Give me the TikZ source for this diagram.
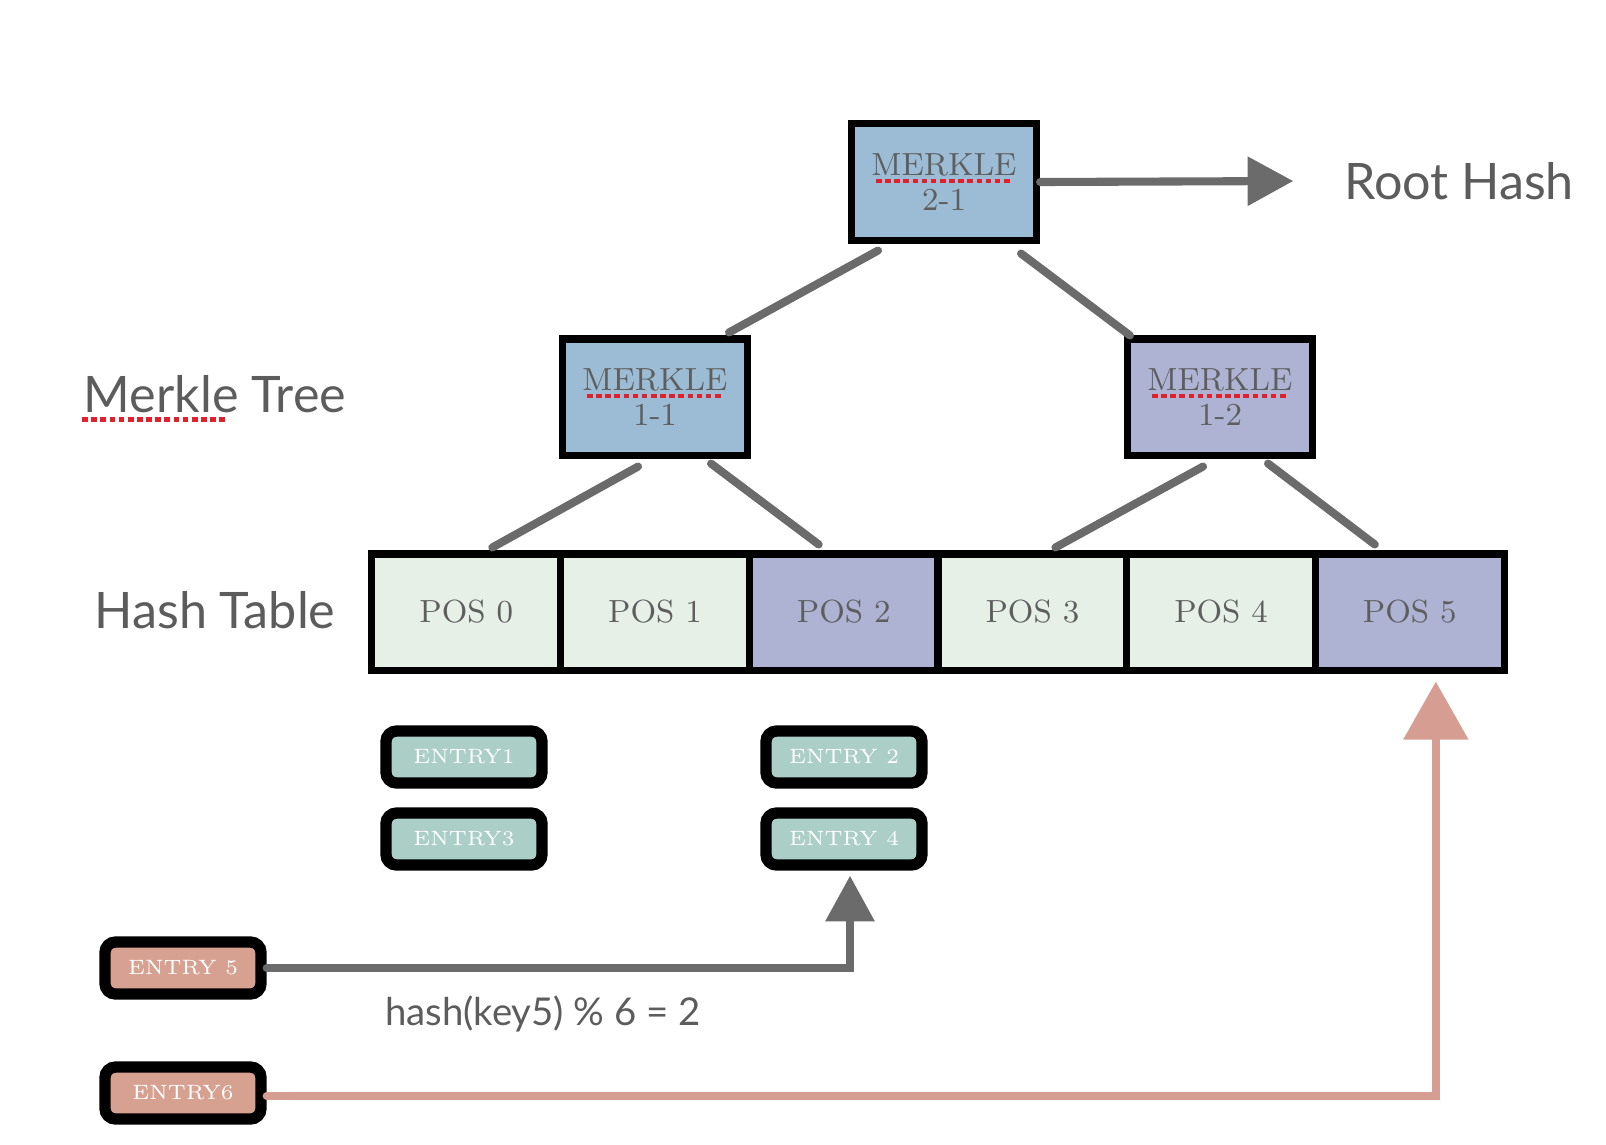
\documentclass[tikz,border=0pt]{standalone}
\usepackage{fontspec}
\usepackage{tikz}
\usepackage{xcolor}
\usetikzlibrary{arrows.meta}
\newfontfamily\labelfont{Lato}
\definecolor{FontColor}{HTML}{5E5E5E}
\definecolor{LabelColor}{HTML}{5C5C5C}
\definecolor{BlueMK}{HTML}{9BBCD4}
\definecolor{PurpleMK}{HTML}{AEB3D4}
\definecolor{GreenPos}{HTML}{E6F0E7}
\definecolor{TealEntry}{HTML}{ABCEC6}
\definecolor{PinkEntry}{HTML}{D7A191}
\definecolor{GreyArrow}{HTML}{6B6B6B}
\definecolor{PinkArrow}{HTML}{D69D93}
\definecolor{SpellRed}{HTML}{E0202A}
\newcommand\noderoot{Root Hash}
\newcommand\nodetree{Merkle Tree}
\newcommand\nodetable{Hash Table}
\newcommand\nodehash{hash(key5) \% 6 = 2}
\tikzstyle{boxstyle} = [rectangle, draw=black, line width=2pt, text=FontColor, font=\fontsize{9.1}{10}\selectfont, align=center]
\tikzstyle{mb} = [boxstyle, fill=BlueMK, minimum width=1.85cm, minimum height=1.16cm]
\tikzstyle{mp} = [boxstyle, fill=PurpleMK, minimum width=1.85cm, minimum height=1.16cm]
\tikzstyle{pn} = [boxstyle, minimum width=1.887cm, minimum height=1.16cm]
\tikzstyle{en} = [rectangle, rounded corners=3pt, draw=black, line width=3.2pt, minimum width=1.56cm, minimum height=0.52cm, text=white, font=\fontsize{5.9}{7}\selectfont]
\tikzstyle{lb} = [inner sep=0pt, text=LabelColor, font=\labelfont\fontsize{14.3}{17}\selectfont]
\tikzstyle{link} = [draw=GreyArrow, line width=2.3pt, line cap=round]
\tikzstyle{pointer} = [link, -{Triangle[length=13pt,width=13.5pt]}]
\tikzset{>=latex, every picture/.style={line width=1pt}}

\begin{document}
\begin{tikzpicture}[x=0.01cm, y=-0.01cm]
\useasboundingbox (0,0) rectangle (1606,1144);
% merkle tree
\node[mb] (m21) at (944, 182) {MERKLE\\2-1};
\node[mb] (m11) at (655, 397) {MERKLE\\1-1};
\node[mp] (m12) at (1220, 397) {MERKLE\\1-2};
% hash table
\foreach \i/\c in {0/GreenPos, 1/GreenPos, 2/PurpleMK, 3/GreenPos, 4/GreenPos, 5/PurpleMK}
  \node[pn, fill=\c] (pos\i) at ({466.3+188.7*\i}, 612) {POS \i};
% entries
\node[en, fill=TealEntry] (e1) at (464, 757) {ENTRY1};
\node[en, fill=TealEntry] (e3) at (464, 839) {ENTRY3};
\node[en, fill=TealEntry] (e2) at (844, 757) {ENTRY 2};
\node[en, fill=TealEntry] (e4) at (844, 839) {ENTRY 4};
\node[en, fill=PinkEntry] (e5) at (183, 968) {ENTRY 5};
\node[en, fill=PinkEntry] (e6) at (183, 1093) {ENTRY6};
% labels
\node[lb] (root) at (1459, 181) {\noderoot};
\node[lb] (tree) at (215, 394) {\nodetree};
\node[lb] (table) at (215, 610) {\nodetable};
\node[lb, font=\labelfont\fontsize{10.9}{13}\selectfont] (hash) at (543, 1014) {\nodehash};
% spelling marks
\foreach \m in {m21, m11, m12}
  \draw[SpellRed, line width=1.3pt, dash pattern=on 1.6pt off 1pt] ([xshift=-0.68cm, yshift=0.01cm]\m.center) -- ([xshift=0.68cm, yshift=0.01cm]\m.center);
\draw[SpellRed, line width=1.3pt, dash pattern=on 1.6pt off 1pt] ([yshift=-0.07cm]tree.base west) -- ([xshift=1.45cm, yshift=-0.07cm]tree.base west);
% connectors
\draw[link] ([xshift=-0.66cm, yshift=-0.07cm]m21.south) -- ([xshift=0.74cm, yshift=0.03cm]m11.north);
\draw[link] ([xshift=0.77cm, yshift=-0.1cm]m21.south) -- ([xshift=-0.9cm]m12.north);
\draw[link] ([xshift=-0.17cm, yshift=-0.08cm]m11.south) -- ([xshift=0.26cm, yshift=0.03cm]pos0.north);
\draw[link] ([xshift=0.56cm, yshift=-0.05cm]m11.south) -- ([xshift=-0.25cm, yshift=0.06cm]pos2.north);
\draw[link] ([xshift=-0.17cm, yshift=-0.08cm]m12.south) -- ([xshift=0.23cm, yshift=0.03cm]pos3.north);
\draw[link] ([xshift=0.48cm, yshift=-0.05cm]m12.south) -- ([xshift=-0.35cm, yshift=0.06cm]pos5.north);
\draw[pointer] (m21.east) -- ([xshift=-0.49cm]root.west);
\draw[pointer] (e5.east) -| ([xshift=0.06cm, yshift=-0.05cm]e4.south);
\draw[pointer, draw=PinkArrow, -{Triangle[length=16.5pt, width=18pt]}] ([yshift=-0.03cm]e6.east) -| ([xshift=0.26cm, yshift=-0.08cm]pos5.south);
\end{tikzpicture}
\end{document}
